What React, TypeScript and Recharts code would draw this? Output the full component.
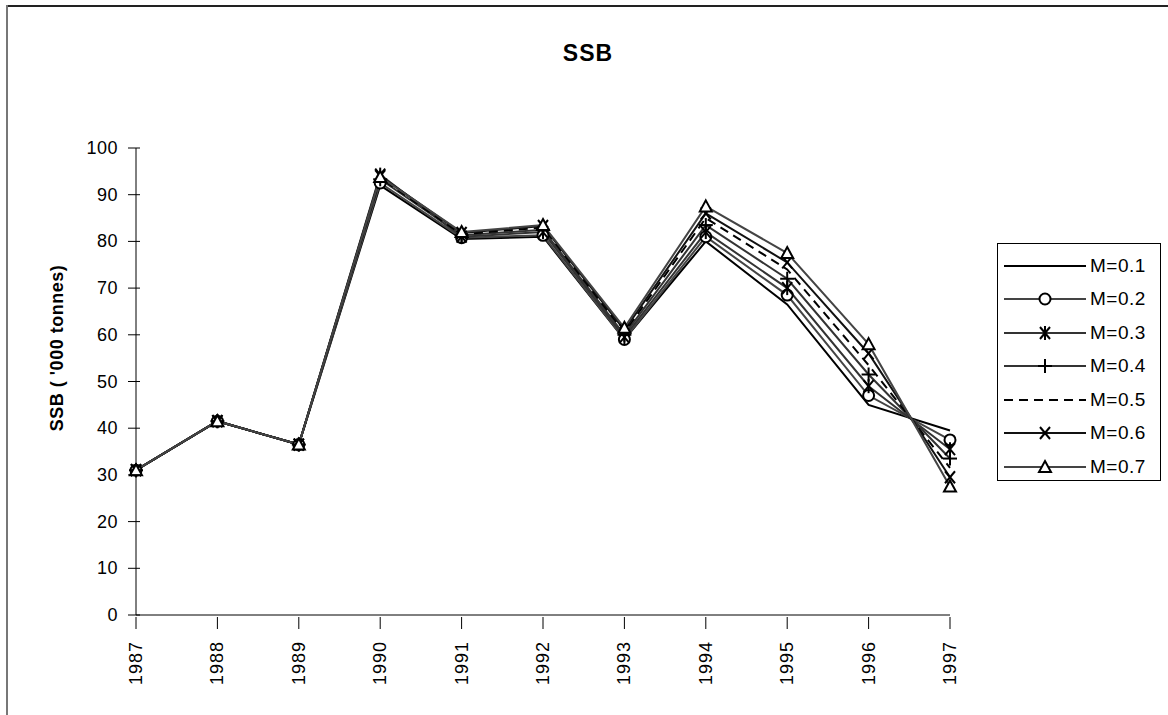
import { LineChart, Line, XAxis, YAxis, Legend } from "recharts"

const years = ["1987", "1988", "1989", "1990", "1991", "1992", "1993", "1994", "1995", "1996", "1997"]
const m01 = [31, 41.5, 36.5, 92, 80.5, 81, 59, 80, 66.5, 45, 39.5]
const m02 = [31, 41.5, 36.5, 92.5, 80.8, 81.3, 59, 81, 68.5, 47, 37.5]
const m03 = [31, 41.5, 36.5, 94.3, 81, 82, 59.5, 82, 70, 49, 35.5]
const m04 = [31, 41.5, 36.5, 93.3, 81.3, 82.5, 60, 83.5, 72, 51.5, 33.5]
const m05 = [31, 41.5, 36.5, 93.6, 81.5, 83, 60.5, 85, 74, 53.5, 31.5]
const m06 = [31, 41.5, 36.5, 94, 81.8, 83.3, 61, 86, 75.5, 56, 29.5]
const m07 = [31, 41.5, 36.5, 93.8, 82, 83.5, 61.5, 87.5, 77.5, 58, 27.5]
const yTicks = [0, 10, 20, 30, 40, 50, 60, 70, 80, 90, 100]

type Shape = "none" | "circle" | "star" | "plus" | "x" | "triangle"

const series: { key: string; name: string; values: number[]; color: string; dash?: string; shape: Shape }[] = [
  { key: "m01", name: "M=0.1", values: m01, color: "#000", shape: "none" },
  { key: "m02", name: "M=0.2", values: m02, color: "#444", shape: "circle" },
  { key: "m03", name: "M=0.3", values: m03, color: "#333", shape: "star" },
  { key: "m04", name: "M=0.4", values: m04, color: "#333", shape: "plus" },
  { key: "m05", name: "M=0.5", values: m05, color: "#000", dash: "9 6", shape: "none" },
  { key: "m06", name: "M=0.6", values: m06, color: "#111", shape: "x" },
  { key: "m07", name: "M=0.7", values: m07, color: "#444", shape: "triangle" },
]

const data = years.map((year, i) => {
  const row: Record<string, string | number> = { year }
  series.forEach((s) => (row[s.key] = s.values[i]))
  return row
})

const FONT = "'Liberation Sans', Arial, sans-serif"

function Marker({ cx, cy, shape }: { cx: number; cy: number; shape: Shape }) {
  const st = { stroke: "#000", strokeWidth: 2, fill: "none" }
  if (shape === "circle") return <circle cx={cx} cy={cy} r={5.5} fill="#fff" stroke="#000" strokeWidth={2} />
  if (shape === "triangle")
    return <polygon points={`${cx},${cy - 6} ${cx + 6},${cy + 5} ${cx - 6},${cy + 5}`} fill="#fff" stroke="#000" strokeWidth={2} />
  if (shape === "plus")
    return (
      <g {...st}>
        <line x1={cx - 7} y1={cy} x2={cx + 7} y2={cy} />
        <line x1={cx} y1={cy - 7} x2={cx} y2={cy + 7} />
      </g>
    )
  if (shape === "x")
    return (
      <g {...st}>
        <line x1={cx - 5} y1={cy - 6} x2={cx + 5} y2={cy + 6} />
        <line x1={cx - 5} y1={cy + 6} x2={cx + 5} y2={cy - 6} />
      </g>
    )
  if (shape === "star")
    return (
      <g {...st}>
        <line x1={cx - 5} y1={cy - 6} x2={cx + 5} y2={cy + 6} />
        <line x1={cx - 5} y1={cy + 6} x2={cx + 5} y2={cy - 6} />
        <line x1={cx} y1={cy - 7} x2={cx} y2={cy + 7} />
      </g>
    )
  return null
}

function YTick(props: { x?: number; y?: number; payload?: { value: number } }) {
  const { x = 0, y = 0, payload } = props
  return (
    <g>
      <line x1={x - 6} y1={y} x2={x + 6} y2={y} stroke="#000" strokeWidth={1} />
      <text x={x - 16} y={y} dy={6} textAnchor="end" fontSize={18} letterSpacing={0.5} fontFamily={FONT} fill="#000">
        {payload?.value}
      </text>
    </g>
  )
}

function XTick(props: { x?: number; y?: number; payload?: { value: string } }) {
  const { x = 0, y = 0, payload } = props
  return (
    <g>
      <line x1={x} y1={y - 6} x2={x} y2={y + 6} stroke="#000" strokeWidth={1} />
      <text
        x={x}
        y={y + 18}
        dy={6}
        textAnchor="end"
        fontSize={18}
        letterSpacing={1}
        fontFamily={FONT}
        fill="#000"
        transform={`rotate(-90 ${x} ${y + 18})`}
      >
        {payload?.value}
      </text>
    </g>
  )
}

function LegendBox() {
  return (
    <div style={{ border: "1.5px solid #000", background: "#fff", padding: "5px 0", boxSizing: "border-box", height: 238 }}>
      {series.map((s) => (
        <div key={s.key} style={{ display: "flex", alignItems: "center", height: 33.5 }}>
          <svg width={92} height={20} style={{ flex: "none" }}>
            <line x1={6} y1={10} x2={88} y2={10} stroke={s.color} strokeWidth={2} strokeDasharray={s.dash} />
            <Marker cx={47} cy={10} shape={s.shape} />
          </svg>
          <span style={{ fontFamily: FONT, fontSize: 19, color: "#000", letterSpacing: 0.5 }}>{s.name}</span>
        </div>
      ))}
    </div>
  )
}

export default function App() {
  return (
    <div style={{ position: "absolute", left: 0, top: 0, width: 1168, height: 715, background: "#fff" }}>
      <div style={{ position: "absolute", left: 6, top: 5, width: 1162, height: 1.5, background: "#222" }} />
      <div style={{ position: "absolute", left: 6, top: 5, width: 2, height: 710, background: "#777" }} />
      <div
        style={{
          position: "absolute",
          left: 0,
          width: 1168,
          top: 40,
          textAlign: "center",
          paddingLeft: 8,
          fontFamily: FONT,
          fontWeight: "bold",
          fontSize: 23,
          letterSpacing: 1,
          boxSizing: "border-box",
        }}
      >
        SSB
      </div>
      <div
        style={{
          position: "absolute",
          left: 57,
          top: 348,
          transform: "translate(-50%, -50%) rotate(-90deg)",
          whiteSpace: "nowrap",
          fontFamily: FONT,
          fontWeight: "bold",
          fontSize: 18,
          letterSpacing: 0.5,
        }}
      >
        SSB ( '000 tonnes)
      </div>
      <LineChart width={1168} height={715} data={data} margin={{ top: 148, right: 218, bottom: 20, left: 56 }}>
        <XAxis
          dataKey="year"
          height={80}
          axisLine={{ stroke: "#000", strokeWidth: 1 }}
          tickLine={false}
          tick={<XTick />}
          interval={0}
        />
        <YAxis
          width={80}
          domain={[0, 100]}
          ticks={yTicks}
          axisLine={{ stroke: "#000", strokeWidth: 1 }}
          tickLine={false}
          tickSize={0}
          tick={<YTick />}
          interval={0}
        />
        <Legend
          layout="vertical"
          align="center"
          verticalAlign="middle"
          content={<LegendBox />}
          wrapperStyle={{ left: 997, top: 243, width: 164, height: 238 }}
        />
        {series.map((s) => (
          <Line
            key={s.key}
            dataKey={s.key}
            name={s.name}
            type="linear"
            stroke={s.color}
            strokeWidth={2}
            strokeDasharray={s.dash}
            isAnimationActive={false}
            activeDot={false}
            dot={(p: { cx: number; cy: number; index: number }) => (
              <Marker key={`${s.key}-${p.index}`} cx={p.cx} cy={p.cy} shape={s.shape} />
            )}
          />
        ))}
      </LineChart>
    </div>
  )
}
